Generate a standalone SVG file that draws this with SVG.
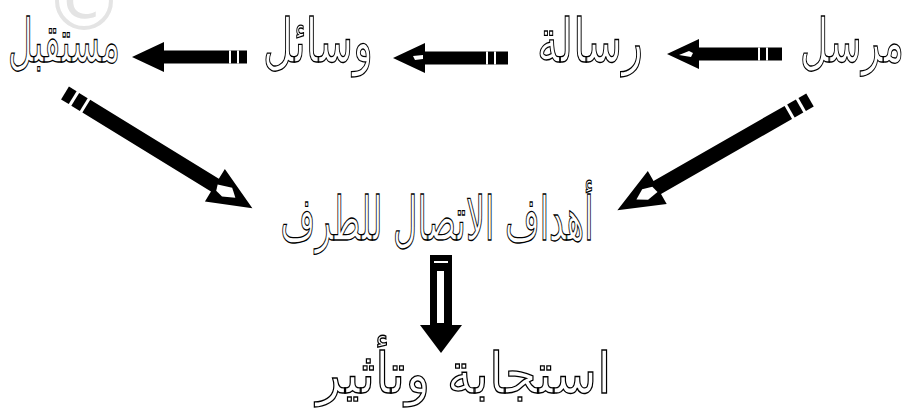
<svg xmlns="http://www.w3.org/2000/svg" width="919" height="410" viewBox="0 0 919 410">
<style>
.lbl{font-family:"DejaVu Sans","Noto Sans",sans-serif;fill:#fff;stroke:#000;stroke-width:1.3;text-anchor:middle;}
.ar{fill:#000;}
.hl{fill:#fff;}
.gap{stroke:#fff;stroke-width:2;}
.wm{font-family:"DejaVu Sans",sans-serif;fill:#e4e4e4;font-size:80px;text-anchor:middle;}
</style>
<rect width="919" height="410" fill="#fff"/>
<text class="wm" x="84" y="30">©</text>

<g id="connectors">
  <!-- horizontal arrows pointing left -->
  <g id="a1" transform="translate(667,54)">
    <path class="ar" d="M0,0 L32,-15 L32,-6.5 L115,-6.5 L115,6.5 L32,6.5 L32,15 Z"/>
    <path class="hl" d="M12,1 L22,-3 L26,-1 L24,3 Z"/>
    <line class="gap" x1="92" y1="-6.5" x2="92" y2="6.5"/>
    <line class="gap" x1="100" y1="-6.5" x2="100" y2="6.5"/>
  </g>
  <g id="a2" transform="translate(393,58)">
    <path class="ar" d="M0,0 L32,-15 L32,-6.5 L115,-6.5 L115,6.5 L32,6.5 L32,15 Z"/>
    <path class="hl" d="M20,-2 L30,-3 L30,1 L22,2 Z"/>
    <line class="gap" x1="94" y1="-6.5" x2="94" y2="6.5"/>
    <line class="gap" x1="102" y1="-6.5" x2="102" y2="6.5"/>
  </g>
  <g id="a3" transform="translate(132,57)">
    <path class="ar" d="M0,0 L32,-15 L32,-6.5 L115,-6.5 L115,6.5 L32,6.5 L32,15 Z"/>
    <line class="gap" x1="98" y1="-6.5" x2="98" y2="6.5"/>
    <line class="gap" x1="106" y1="-6.5" x2="106" y2="6.5"/>
  </g>
  <!-- diagonal arrows -->
  <g id="a4" transform="translate(65,93) rotate(31.6)">
    <rect class="ar" x="0" y="-7.5" width="9" height="15"/>
    <rect class="ar" x="12" y="-7.5" width="10" height="15"/>
    <path class="ar" d="M25,-7.5 L176,-7.5 L176,-19 L220,0 L176,19 L176,7.5 L25,7.5 Z"/>
    <path class="hl" d="M178,-2 L192,-7 L200,0 L188,6 L180,4 Z"/>
  </g>
  <g id="a5" transform="translate(810,100) rotate(150.2)">
    <rect class="ar" x="0" y="-7.5" width="9" height="15"/>
    <rect class="ar" x="12" y="-7.5" width="10" height="15"/>
    <path class="ar" d="M25,-7.5 L176,-7.5 L176,-19 L222,0 L176,19 L176,7.5 L25,7.5 Z"/>
    <path class="hl" d="M178,-4 L190,-6 L200,0 L190,6 L180,3 Z"/>
  </g>
  <!-- down arrow -->
  <g id="a6">
    <path class="ar" d="M430,255 L452,255 L452,325 L462,325 L441,353 L420,325 L430,325 Z"/>
    <rect class="hl" x="437" y="271" width="7" height="52"/>
    <line class="gap" x1="434" y1="262" x2="448" y2="262"/>
  </g>
</g>

<g id="n-sender"><text class="lbl" x="852" y="62" font-size="60" textLength="104" lengthAdjust="spacingAndGlyphs">مرسل</text></g>
<g id="n-message"><text class="lbl" x="590" y="62" font-size="60" textLength="106" lengthAdjust="spacingAndGlyphs">رسالة</text></g>
<g id="n-means"><text class="lbl" x="318" y="62" font-size="60" textLength="110" lengthAdjust="spacingAndGlyphs">وسائل</text></g>
<g id="n-receiver"><text class="lbl" x="64" y="62" font-size="60" textLength="112" lengthAdjust="spacingAndGlyphs">مستقبل</text></g>
<g id="n-goals"><text class="lbl" x="437" y="240" font-size="60" textLength="313" lengthAdjust="spacingAndGlyphs">أهداف الاتصال للطرف</text></g>
<g id="n-response"><text class="lbl" x="464" y="393" font-size="56" textLength="295" lengthAdjust="spacingAndGlyphs">استجابة وتأثير</text></g>
</svg>
